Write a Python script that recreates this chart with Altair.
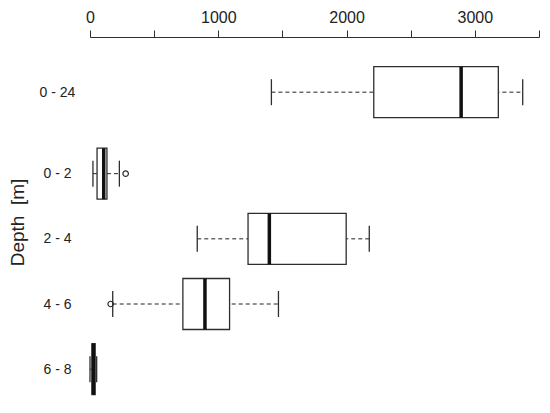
import altair as alt
import pandas as pd

# ---- data ----
categories = ["0 - 24", "0 - 2", "2 - 4", "4 - 6", "6 - 8"]
whisk_lo = [1414, 23, 836, 177, 0]
q1 = [2212, 55, 1232, 724, 15]
median = [2893, 107, 1398, 896, 27]
q3 = [3183, 132, 1997, 1088, 40]
whisk_hi = [3373, 229, 2177, 1469, 52]
outlier_cat = ["0 - 2", "4 - 6"]
outlier_val = [278, 161]

x_ticks = [0, 500, 1000, 1500, 2000, 2500, 3000, 3500]

# row layout: the first row is set a little apart from the others
row_pos = [0.0] + [1.25 + i for i in range(len(categories) - 1)]
pos_of = dict(zip(categories, row_pos))

df = pd.DataFrame({
    "cat": categories, "pos": row_pos,
    "lo": whisk_lo, "q1": q1, "med": median, "q3": q3, "hi": whisk_hi,
})
out_df = pd.DataFrame({
    "cat": outlier_cat,
    "pos": [pos_of[c] for c in outlier_cat],
    "val": outlier_val,
})

FONT = "Liberation Sans"
INK = "#2e2e2e"
TXT = "#222222"

label_expr = ""
for c, p in zip(categories, row_pos):
    label_expr += f"datum.value == {p} ? '{c}' : "
label_expr += "''"

x_axis = alt.Axis(
    orient="top", values=x_ticks, format="d", grid=False,
    labelExpr="datum.value % 1000 == 0 ? datum.label : ''",
    labelFlush=False, labelFontSize=16, labelFont=FONT, labelColor=TXT,
    labelPadding=5, tickSize=7, tickColor=INK, tickWidth=1,
    domainColor=INK, domainWidth=1, title=None,
)
y_axis = alt.Axis(
    values=row_pos, labelExpr=label_expr, grid=False, domain=False,
    ticks=False, tickSize=0, labelAlign="center", labelBaseline="middle",
    labelPadding=33, labelFontSize=14, labelFont=FONT, labelColor=TXT,
    title="Depth\u00a0\u00a0[m]", titleFont=FONT, titleFontSize=19,
    titleFontWeight="normal", titleColor=TXT, titleX=-73, titleY=185,
    titleAlign="center", titleBaseline="middle",
)
x_scale = alt.Scale(domain=[0, 3500], nice=False, zero=False)
y_scale = alt.Scale(domain=[-0.77, 4.6], nice=False, zero=False, reverse=True)


def X(field):
    return alt.X(f"{field}:Q", scale=x_scale, axis=x_axis)


def Y():
    return alt.Y("pos:Q", scale=y_scale, axis=y_axis)


base = alt.Chart(df)

whisker = base.mark_rule(color="#222222", strokeWidth=1, strokeDash=[4, 3]).encode(
    x=X("lo"), x2="hi:Q", y=Y()
)
cap_lo = base.mark_tick(orient="vertical", size=26, thickness=1.3, color=INK,
                        opacity=1).encode(x=X("lo"), y=Y())
cap_hi = base.mark_tick(orient="vertical", size=26, thickness=1.3, color=INK,
                        opacity=1).encode(x=X("hi"), y=Y())
box = base.mark_bar(orient="horizontal", size=51, fill="white", stroke=INK,
                    strokeWidth=1.3, opacity=1).encode(
    x=X("q1"), x2="q3:Q", y=Y()
)
med = base.mark_tick(orient="vertical", size=51, thickness=3.5, color="#111111",
                     opacity=1).encode(x=X("med"), y=Y())
outl = alt.Chart(out_df).mark_point(shape="circle", size=30, filled=False,
                                    stroke=INK, strokeWidth=1.2, opacity=1).encode(
    x=X("val"), y=Y()
)

chart = alt.layer(whisker, cap_lo, cap_hi, box, med, outl).properties(
    width=449, height=360,
    background="white",
    autosize=alt.AutoSizeParams(type="none"),
    padding={"left": 82, "top": 29, "right": 2, "bottom": 0},
).configure_view(strokeWidth=0, stroke="transparent")

chart.save("out.html", embed_options={"renderer": "svg", "actions": False})
